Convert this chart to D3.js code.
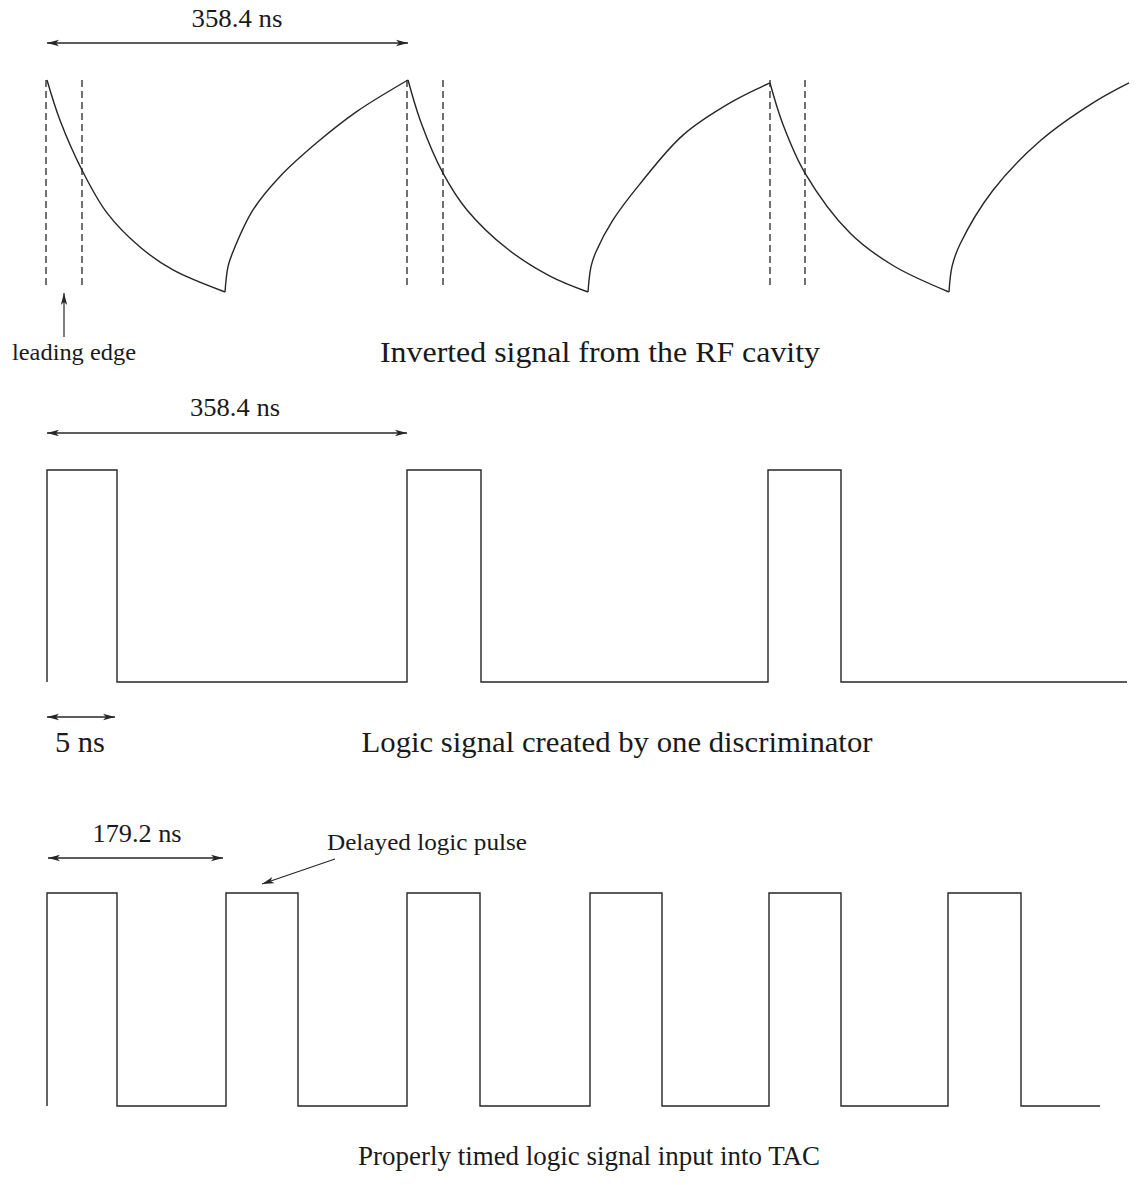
<!DOCTYPE html>
<html>
<head>
<meta charset="utf-8">
<script src="https://cdn.jsdelivr.net/npm/d3@7"></script>
<style>
  body { margin: 0; background: #fff; }
  svg text { font-family: "Liberation Serif", "DejaVu Serif", serif; fill: #1a1a1a; }
</style>
</head>
<body>
<svg width="1137" height="1185"></svg>
<script>
// **** Data (time in ns, amplitude 0..1) ****

// RF cavity signal, one array per smooth piece (decay then rise)
var rfDecay1 = [[0, 1.0], [13, 0.81], [35, 0.575], [60, 0.373], [93, 0.212], [126, 0.104], [178, 0]];
var rfRise1 = [[178, 0], [181, 0.12], [186, 0.19], [206, 0.387], [233, 0.545], [270, 0.705], [310, 0.852], [361, 1.0]];
var rfDecay2 = [[361, 1.0], [374, 0.8], [396, 0.561], [420, 0.387], [460, 0.205], [503, 0.075], [541, 0]];
var rfRise2 = [[541, 0], [544, 0.12], [549, 0.19], [566, 0.34], [593, 0.51], [636, 0.74], [686, 0.9], [723, 0.986]];
var rfDecay3 = [[723, 0.986], [736, 0.79], [758, 0.561], [803, 0.278], [846, 0.125], [902, 0]];
var rfRise3 = [[902, 0], [905, 0.12], [913, 0.225], [946, 0.48], [993, 0.712], [1046, 0.892], [1082, 0.986]];

// dashed markers around each leading edge
var dashTimes = [-1, 35, 360, 396, 723, 758];

// discriminator output (edge times and level after each edge)
var discTimes = [0, 0, 70, 360, 434, 721, 794, 1080];
var discLevels = [0, 1, 0, 1, 0, 1, 0, 0];

// logic signal into the TAC
var tacTimes = [0, 0, 70, 179, 251, 360, 433, 543, 615, 722, 794, 901, 974, 1053];
var tacLevels = [0, 1, 0, 1, 0, 1, 0, 1, 0, 1, 0, 1, 0, 0];

// dimension arrows: start, end, label
var spanStarts = [0, 0, 0, 1];
var spanEnds = [361, 360, 68, 176];
var spanLabels = ['358.4 ns', '358.4 ns', '5 ns', '179.2 ns'];

var captions = ['Inverted signal from the RF cavity',
                'Logic signal created by one discriminator',
                'Properly timed logic signal input into TAC'];

// **** Scales ****
var x = d3.scaleLinear().domain([0, 1090]).range([47, 1137]);
var yTop = d3.scaleLinear().domain([0, 1]).range([292, 80]);
var yMid = d3.scaleLinear().domain([0, 1]).range([682, 470]);
var yBot = d3.scaleLinear().domain([0, 1]).range([1106, 893]);

var svg = d3.select('svg');
var ink = '#262626';

// arrowhead marker
svg.append('defs').append('marker')
    .attr('id', 'head')
    .attr('markerUnits', 'userSpaceOnUse')
    .attr('viewBox', '0 -5 12 10')
    .attr('refX', 12).attr('refY', 0)
    .attr('markerWidth', 12).attr('markerHeight', 10)
    .attr('orient', 'auto-start-reverse')
    .append('path')
    .attr('d', 'M0,-3.2L12,0L0,3.2L3,0Z')
    .attr('fill', ink);

// **** Top: RF cavity signal ****
var rfLine = d3.line()
    .x(d => x(d[0]))
    .y(d => yTop(d[1]))
    .curve(d3.curveCatmullRom.alpha(0.5));

[rfDecay1, rfRise1, rfDecay2, rfRise2, rfDecay3, rfRise3].forEach(seg => {
    svg.append('path')
        .attr('d', rfLine(seg))
        .attr('fill', 'none')
        .attr('stroke', ink)
        .attr('stroke-width', 1.4);
});

svg.selectAll('line.dash')
    .data(dashTimes)
    .enter()
    .append('line')
    .attr('class', 'dash')
    .attr('x1', d => x(d)).attr('x2', d => x(d))
    .attr('y1', yTop(1)).attr('y2', yTop(0) - 7)
    .attr('stroke', ink)
    .attr('stroke-width', 1.3)
    .attr('stroke-dasharray', '7,4');

// leading edge pointer
svg.append('line')
    .attr('x1', x(17)).attr('x2', x(17))
    .attr('y1', yTop(0) + 45).attr('y2', yTop(0) + 1)
    .attr('stroke', ink).attr('stroke-width', 1.2)
    .attr('marker-end', 'url(#head)');

svg.append('text')
    .attr('x', 12).attr('y', 360)
    .attr('font-size', 24)
    .attr('textLength', 124)
    .attr('lengthAdjust', 'spacingAndGlyphs')
    .text('leading edge');

// **** Middle and bottom: logic signals ****
function logicPath(times, levels, yScale) {
    var pts = times.map((t, i) => [t, levels[i]]);
    return d3.line()
        .x(d => x(d[0]))
        .y(d => yScale(d[1]))
        .curve(d3.curveStepAfter)(pts);
}

svg.append('path')
    .attr('d', logicPath(discTimes, discLevels, yMid))
    .attr('fill', 'none').attr('stroke', ink).attr('stroke-width', 1.4);

svg.append('path')
    .attr('d', logicPath(tacTimes, tacLevels, yBot))
    .attr('fill', 'none').attr('stroke', ink).attr('stroke-width', 1.4);

// delayed pulse pointer
svg.append('line')
    .attr('x1', x(288)).attr('y1', yBot(1) - 34)
    .attr('x2', x(215)).attr('y2', yBot(1) - 9)
    .attr('stroke', ink).attr('stroke-width', 1.2)
    .attr('marker-end', 'url(#head)');

svg.append('text')
    .attr('x', 327).attr('y', 850)
    .attr('font-size', 23)
    .attr('textLength', 200)
    .attr('lengthAdjust', 'spacingAndGlyphs')
    .text('Delayed logic pulse');

// **** Dimension arrows ****
var spanY = [43, 433, 717, 858];
var labelX = [237, 235, 80, 137];
var labelY = [27, 416, 752, 842];
var labelSize = [25, 25, 29, 25];
var labelLen = [91, 90, 50, 89];

spanStarts.forEach((s, i) => {
    svg.append('line')
        .attr('x1', x(s)).attr('x2', x(spanEnds[i]))
        .attr('y1', spanY[i]).attr('y2', spanY[i])
        .attr('stroke', ink).attr('stroke-width', 1.3)
        .attr('marker-start', 'url(#head)')
        .attr('marker-end', 'url(#head)');

    svg.append('text')
        .attr('x', labelX[i]).attr('y', labelY[i])
        .attr('text-anchor', 'middle')
        .attr('font-size', labelSize[i])
        .attr('textLength', labelLen[i])
        .attr('lengthAdjust', 'spacingAndGlyphs')
        .text(spanLabels[i]);
});

// **** Captions ****
var capX = [600, 617, 589];
var capY = [362, 752, 1165];
var capSize = [30, 30, 27];
var capLen = [440, 511, 462];

captions.forEach((c, i) => {
    svg.append('text')
        .attr('x', capX[i]).attr('y', capY[i])
        .attr('text-anchor', 'middle')
        .attr('font-size', capSize[i])
        .attr('textLength', capLen[i])
        .attr('lengthAdjust', 'spacingAndGlyphs')
        .text(c);
});
</script>
</body>
</html>
